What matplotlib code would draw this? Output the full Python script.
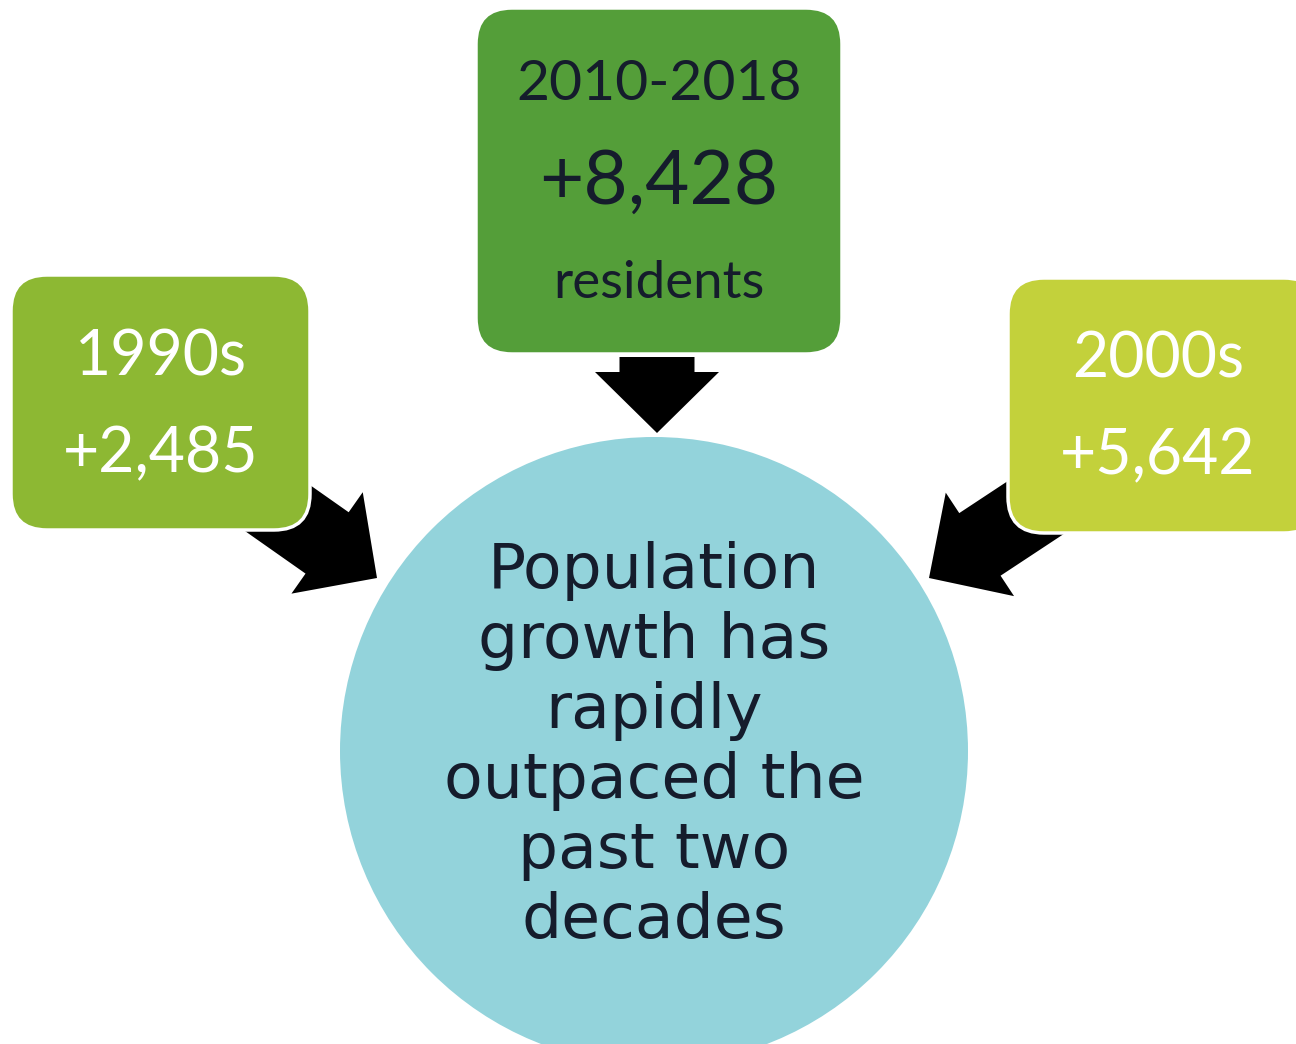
import matplotlib
matplotlib.use("Agg")
import matplotlib.pyplot as plt
import numpy as np
from matplotlib.patches import Circle, FancyArrow, FancyBboxPatch

# Decade labels and growth figures
periods = ["1990s", "2010-2018", "2000s"]
growth = [2485, 8428, 5642]
summary = ["Population", "growth has", "rapidly", "outpaced the", "past two", "decades"]

FONT = ["Lato", "DejaVu Sans"]
WIDE = ["DejaVu Sans"]
DARK = "#151c2c"

W, H = 1296, 1044
fig = plt.figure(figsize=(W / 100, H / 100), dpi=100)
ax = fig.add_axes([0, 0, 1, 1])
ax.set_xlim(0, W)
ax.set_ylim(H, 0)
ax.set_aspect("equal")
ax.axis("off")

# central circle with the summary sentence
ax.add_patch(Circle((654, 751), 314, facecolor="#93d3db", edgecolor="none", zorder=1))
for i, line in enumerate(summary):
    ax.text(654, 588 + i * 70, line, ha="center", va="baseline", fontsize=45.5,
            color=DARK, family=WIDE, fontweight="normal", zorder=5)


def arrow(tip, direction, length):
    d = np.array(direction, dtype=float)
    d /= np.hypot(*d)
    start = np.array(tip) - d * length
    ax.add_patch(FancyArrow(start[0], start[1], d[0] * length, d[1] * length,
                            width=75, head_width=124, head_length=61,
                            length_includes_head=True, facecolor="black",
                            edgecolor="none", zorder=2))


arrow((377, 578), (50.5, 35.5), 160)
arrow((657, 433), (0, 1), 76)
arrow((929, 578), (-50, 33), 160)


def box(x0, y0, x1, y1, color):
    ax.add_patch(FancyBboxPatch((x0, y0), x1 - x0, y1 - y0,
                                boxstyle="round,pad=0,rounding_size=36",
                                facecolor=color, edgecolor="white", linewidth=2.5,
                                zorder=3))


def label(x, y, s, size, color):
    ax.text(x, y, s, ha="center", va="baseline", fontsize=size, color=color,
            family=FONT, fontweight="normal", zorder=5)


# left box: 1990s
box(11, 275, 310, 530, "#8db833")
label(161, 376, periods[0], 45, "white")
label(161, 472, f"+{growth[0]:,}", 45, "white")

# top box: 2010-2018
box(476, 8, 842, 354, "#549e39")
label(659, 100, periods[1], 41, DARK)
label(659, 204, f"+{growth[1]:,}", 55, DARK)
label(659, 298, "residents", 38, DARK)

# right box: 2000s
box(1008, 278, 1320, 533, "#c3d13b")
label(1158, 378, periods[2], 45, "white")
label(1158, 474, f"+{growth[2]:,}", 45, "white")

fig.savefig("out.png", dpi=100, facecolor="white")
